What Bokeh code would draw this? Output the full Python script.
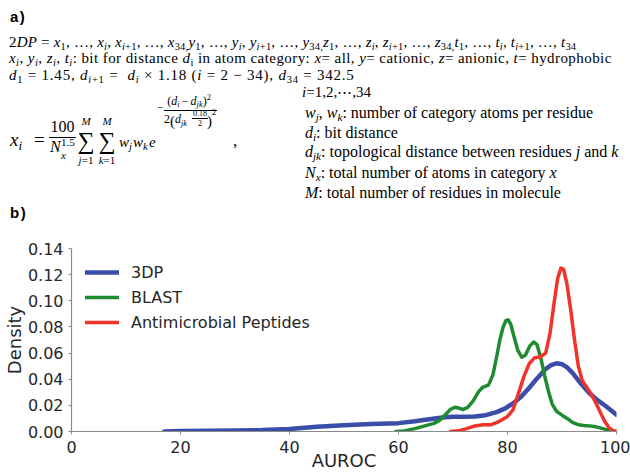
from bokeh.plotting import figure
from bokeh.models import Range1d, FixedTicker, PrintfTickFormatter, Div
from bokeh.layouts import column
from bokeh.embed import file_html
from bokeh.resources import INLINE

# ---------------- data ----------------
X_TICKS = [0, 20, 40, 60, 80, 100]
Y_TICKS = [0.00, 0.02, 0.04, 0.06, 0.08, 0.10, 0.12, 0.14]

SERIES_NAMES = ["3DP", "BLAST", "Antimicrobial Peptides"]

auroc_3dp = [17, 20, 25, 30, 35, 40, 45, 50, 55, 60, 63, 66, 68, 70, 72, 74, 76, 78, 79.5, 81,
             82.5, 84, 85.5, 87, 88, 89, 90, 91, 92, 93.5, 95, 96.5, 98, 100]
density_3dp = [0.0, 0.0003, 0.0005, 0.0008, 0.0011, 0.002, 0.0036, 0.0048, 0.0057, 0.0064, 0.0078,
               0.0096, 0.0107, 0.0112, 0.0112, 0.0114, 0.0125, 0.0148, 0.0175, 0.0215, 0.0265,
               0.0335, 0.041, 0.0478, 0.0508, 0.0522, 0.0515, 0.0488, 0.0445, 0.0365, 0.0295,
               0.024, 0.0195, 0.0128]

auroc_blast = [59.5, 61, 63, 65, 66.5, 67.5, 68.5, 69.5, 70.3, 71, 71.8, 72.7, 73.7, 74.7, 75.5,
               76.5, 77.3, 78, 78.6, 79.2, 79.7, 80.1, 80.6, 81.2, 81.9, 82.6, 83.3, 84.1, 84.8,
               85.4, 86.1, 86.8, 87.5, 88.2, 89, 90, 91, 92, 93, 94, 95, 96, 97, 98, 99, 100]
density_blast = [0.0, 0.0004, 0.0022, 0.0045, 0.0062, 0.0085, 0.0125, 0.0168, 0.0185, 0.018,
                 0.0168, 0.0185, 0.0235, 0.0305, 0.034, 0.0355, 0.043, 0.057, 0.07, 0.08, 0.0848,
                 0.0855, 0.082, 0.0725, 0.062, 0.0568, 0.0585, 0.0655, 0.0685, 0.0665, 0.0565,
                 0.043, 0.031, 0.021, 0.0155, 0.0125, 0.0098, 0.0068, 0.0052, 0.0046, 0.0043,
                 0.0038, 0.0028, 0.0016, 0.0006, 0.0]

auroc_amp = [69.5, 71, 72.5, 74, 75.5, 77, 78, 79, 80, 81, 82, 83, 84, 85, 86, 87, 87.8, 88.5,
             89.2, 89.8, 90.3, 90.9, 91.6, 92.3, 93, 93.7, 94.5, 95.3, 96.2, 97, 97.8, 98.6,
             99.3, 100]
density_amp = [0.0, 0.0005, 0.0022, 0.0042, 0.0052, 0.0052, 0.0068, 0.009, 0.0115, 0.0165, 0.029,
               0.042, 0.052, 0.0565, 0.057, 0.06, 0.075, 0.097, 0.117, 0.125, 0.124, 0.113,
               0.093, 0.07, 0.05, 0.039, 0.034, 0.029, 0.022, 0.015, 0.008, 0.003, 0.0008, 0.0]

# ---------------- panel a (text) ----------------
SERIF = "'Liberation Serif', serif"
SANS = "'Liberation Sans', Arial, sans-serif"


def I(s):
    return f"<i>{s}</i>"


def SUB(s, dy=0.28):
    return f'<span style="font-size:0.7em;position:relative;top:{dy}em;line-height:0">{s}</span>'


def SUP(s, dy=-0.55):
    return f'<span style="font-size:0.7em;position:relative;top:{dy}em;line-height:0">{s}</span>'


def OP(s):
    return f'<span style="margin:0 0.18em">{s}</span>'


def put(x, base, html, size, italic=False, weight="normal", family=SERIF, asc=0.3375,
        center=False, extra=""):
    # line-height 0: the baseline sits asc*size below the box top
    top = base - asc * size
    tr = "transform:translateX(-50%);" if center else ""
    st = (f"position:absolute;left:{x}px;top:{top:.2f}px;font-family:{family};"
          f"font-size:{size}px;line-height:0;font-style:{'italic' if italic else 'normal'};"
          f"font-weight:{weight};white-space:nowrap;color:#000;{tr}{extra}")
    return f'<div style="{st}">{html}</div>'


def bar(x, y, w):
    return (f'<div style="position:absolute;left:{x}px;top:{y}px;width:{w}px;height:0;'
            f'border-top:1px solid #000"></div>')


def seq(v, last):
    parts = [I(v) + SUB("1"), "…", I(v) + SUB(I("i")), I(v) + SUB(I("i") + "+1"), "…",
             I(v) + SUB("34" + ("" if last else ","))]
    return ", ".join(parts)


TXT = 15
line1 = "2" + I("DP") + " = " + seq("x", False) + seq("y", False) + seq("z", False) + seq("t", True)
line2 = (", ".join(I(v) + SUB(I("i")) for v in "xyzt") +
         ": bit for distance " + I("d") + SUB("i") + " in atom category: " +
         I("x") + "= all, " + I("y") + "= cationic, " + I("z") + "= anionic, " +
         I("t") + "= hydrophobic")
line3 = (I("d") + SUB("1") + " = 1.45, " + I("d") + SUB(I("i") + "+1") + " =&nbsp; " +
         I("d") + SUB(I("i")) + " × 1.18 (" + I("i") + " = 2 − 34), " + I("d") + SUB("34") +
         " = 342.5")
line4 = I("i") + "=1,2,⋯,34"

right_rows = [
    I("w") + SUB(I("j")) + ", " + I("w") + SUB(I("k")) + ": number of category atoms per residue",
    I("d") + SUB(I("i")) + ": bit distance",
    I("d") + SUB(I("jk")) + ": topological distance between residues " + I("j") + " and " + I("k"),
    I("N") + SUB(I("x")) + ": total number of atoms in category " + I("x"),
    I("M") + ": total number of residues in molecule",
]
right_bases = [118.3, 138.3, 157.7, 178.3, 198.3]

SANS_ASC = 0.3465
parts = []
parts.append(put(10, 22, "a)", 15, weight="bold", family=SANS, asc=SANS_ASC,
                 extra="letter-spacing:1.5px;"))
parts.append(put(9, 46.7, line1, TXT, extra="letter-spacing:0.21px;"))
parts.append(put(9, 63.3, line2, TXT, extra="letter-spacing:0.43px;"))
parts.append(put(9, 80.5, line3, TXT, extra="letter-spacing:0.77px;"))
parts.append(put(302, 97.5, line4, TXT))
for b, r in zip(right_bases, right_rows):
    parts.append(put(305, b, r, 16))

# formula
parts.append(put(10, 146.7, I("x") + SUB(I("i")), 19))
parts.append(put(34, 146.7, "=", 19))
parts.append(put(62.5, 132.3, "100", 16, center=True))
parts.append(bar(49, 137, 27))
parts.append(put(50, 152.7, I("N"), 16))
parts.append(put(61, 159, I("x"), 11))
parts.append(put(61, 146, "1.5", 11))
for cx, lo in ((86, "j"), (107, "k")):
    parts.append(put(cx, 148.7, "∑", 24, center=True))
    parts.append(put(cx, 125, I("M"), 11, center=True))
    parts.append(put(cx, 164, I(lo) + "=1", 11, center=True))
parts.append(put(119, 147.3, I("w") + SUB(I("j")), 15))
parts.append(put(133, 147.3, I("w") + SUB(I("k")), 15))
parts.append(put(149, 147.3, I("e"), 15))
# exponent
parts.append(put(157, 111, "−", 11))
parts.append(put(189, 105, "(" + I("d") + SUB(I("i")) + OP("−") + I("d") + SUB(I("jk")) + ")" +
                 SUP("2"), 12, center=True))
parts.append(bar(164, 110, 53))
parts.append(put(164, 123.3, "2", 12))
parts.append(put(170, 126, "(", 15))
parts.append(put(175, 123.3, I("d") + SUB(I("jk")), 12))
parts.append(put(200, 117, "0.18", 8, center=True))
parts.append(bar(192, 118.2, 16))
parts.append(put(200, 126.2, "2", 8, center=True))
parts.append(put(207, 126, ")", 15))
parts.append(put(212, 116, "2", 8))
parts.append(put(233, 147, ",", 17))

parts.append(put(10, 218, "b)", 15, weight="bold", family=SANS, asc=SANS_ASC,
                 extra="letter-spacing:1.5px;"))

DIV_H = 223
html = (f'<div style="position:relative;width:630px;height:{DIV_H}px;overflow:visible">' +
        "".join(parts) + "</div>")
div = Div(text=html, width=630, height=DIV_H, margin=(0, 0, 0, 0))

# ---------------- panel b (density plot) ----------------
p = figure(width=630, height=473 - DIV_H, x_range=Range1d(0, 100), y_range=Range1d(0, 0.14),
           output_backend="svg", toolbar_location=None,
           min_border_left=67, min_border_right=14, min_border_top=25, min_border_bottom=42,
           margin=(0, 0, 0, 0))

COLORS = ["#3a4da8", "#1f8b30", "#f2332a"]
WIDTHS = [4.5, 3.5, 3.5]
xs = [auroc_3dp, auroc_blast, auroc_amp]
ys = [density_3dp, density_blast, density_amp]
for name, x, y, c, w in zip(SERIES_NAMES, xs, ys, COLORS, WIDTHS):
    p.line(x, y, line_color=c, line_width=w, legend_label=name, line_cap="round", line_join="round")

p.grid.visible = False
p.outline_line_color = None
for ax in (p.xaxis[0], p.yaxis[0]):
    ax.axis_line_color = "#8a8a8a"
    ax.axis_line_width = 1.2
    ax.major_tick_line_color = "#8a8a8a"
    ax.major_tick_out = 3
    ax.major_tick_in = 0
    ax.minor_tick_line_color = None
    ax.major_label_text_font = "DejaVu Sans"
    ax.major_label_text_font_size = "16px"
    ax.major_label_text_color = "#262626"
    ax.axis_label_text_font = "DejaVu Sans"
    ax.axis_label_text_font_size = "18px"
    ax.axis_label_text_font_style = "normal"
    ax.axis_label_text_color = "#262626"
p.xaxis.ticker = FixedTicker(ticks=X_TICKS)
p.yaxis.ticker = FixedTicker(ticks=Y_TICKS)
p.yaxis.formatter = PrintfTickFormatter(format="%.2f")
p.xaxis.major_label_standoff = 6
p.yaxis.major_label_standoff = 5
p.xaxis.axis_label = "AUROC"
p.yaxis.axis_label = "Density"
p.xaxis.axis_label_standoff = -6
p.yaxis.axis_label_standoff = 0

lg = p.legend[0]
lg.location = "top_left"
lg.margin = 0
lg.padding = 14
lg.spacing = 5
lg.glyph_width = 34
lg.glyph_height = 20
lg.label_height = 20
lg.label_standoff = 12
lg.label_text_font = "DejaVu Sans"
lg.label_text_font_size = "16px"
lg.label_text_color = "#262626"
lg.background_fill_alpha = 0
lg.border_line_alpha = 0

layout = column(div, p, spacing=0)
open("out.html", "w").write(file_html(layout, INLINE))
